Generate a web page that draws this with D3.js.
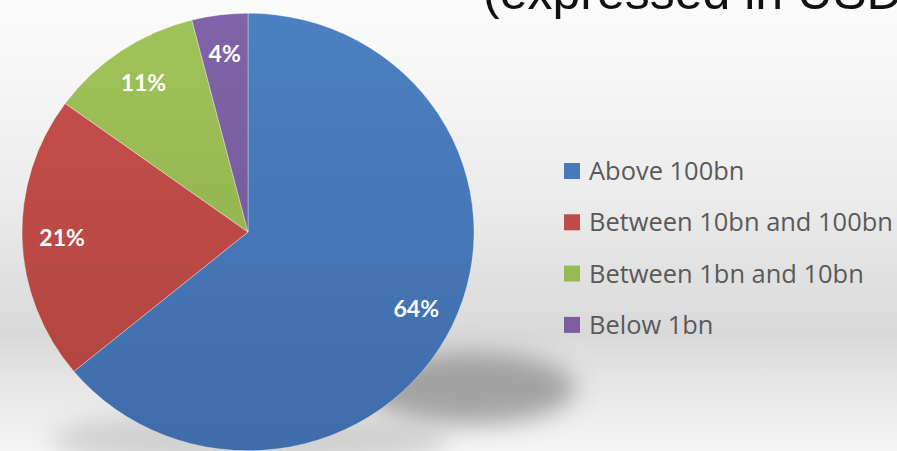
<!DOCTYPE html>
<html>
<head>
<meta charset="utf-8">
<script src="https://cdn.jsdelivr.net/npm/d3@7"></script>
<style>
html,body{margin:0;padding:0;overflow:hidden;background:#f4f4f4;}
svg{display:block;}
</style>
</head>
<body>
<svg id="chart" width="897" height="451"></svg>
<script>
// ---- data ----
const categories = ["Above 100bn", "Between 10bn and 100bn", "Between 1bn and 10bn", "Below 1bn"];
const values = [64, 21, 11, 4];
const labels = ["64%", "21%", "11%", "4%"];
const colors = ["#4879b8", "#be4b48", "#98b954", "#7b5ea0"];
const colorsDark = ["#3f6cab", "#b04340", "#8aab4a", "#6f5393"];
const titleText = "(expressed in USD";

// ---- layout ----
const W = 897, H = 451;
const cx = 248, cy = 232, R = 226, yScale = 0.968;
const labelR = 186;

const svg = d3.select("#chart");
const defs = svg.append("defs");

// background gradient
const bg = defs.append("linearGradient").attr("id", "bg").attr("x1", 0).attr("y1", 0).attr("x2", 0).attr("y2", 1);
[[0, "#fbfbfb"], [0.15, "#f7f7f7"], [0.45, "#ebebeb"], [0.66, "#dedede"], [0.74, "#d9d9d9"], [0.85, "#e6e6e6"], [1, "#f5f5f5"]]
  .forEach(([o, c]) => bg.append("stop").attr("offset", o).attr("stop-color", c));
svg.append("rect").attr("width", W).attr("height", H).attr("fill", "url(#bg)");

// shadow
const blur = defs.append("filter").attr("id", "blur").attr("x", "-50%").attr("y", "-50%").attr("width", "200%").attr("height", "200%");
blur.append("feGaussianBlur").attr("stdDeviation", 12);
svg.append("ellipse").attr("cx", 470).attr("cy", 388).attr("rx", 105).attr("ry", 36)
  .attr("fill", "#8c8c8c").attr("opacity", 0.75).attr("filter", "url(#blur)");
svg.append("ellipse").attr("cx", 250).attr("cy", 440).attr("rx", 200).attr("ry", 30)
  .attr("fill", "#b0b0b0").attr("opacity", 0.5).attr("filter", "url(#blur)");

// slice gradients
colors.forEach((c, i) => {
  const g = defs.append("linearGradient").attr("id", "g" + i)
    .attr("gradientUnits", "userSpaceOnUse").attr("x1", 0).attr("y1", -R).attr("x2", 0).attr("y2", R);
  g.append("stop").attr("offset", 0).attr("stop-color", d3.color(c).brighter(0.15));
  g.append("stop").attr("offset", 1).attr("stop-color", colorsDark[i]);
});

const pie = d3.pie().sort(null).value(d => d);
const arcs = pie(values);
const arc = d3.arc().innerRadius(0).outerRadius(R);
const labelArc = d3.arc().innerRadius(labelR).outerRadius(labelR);

const gPie = svg.append("g").attr("transform", `translate(${cx},${cy}) scale(1,${yScale})`);
gPie.selectAll("path").data(arcs).join("path")
  .attr("d", arc)
  .attr("fill", (d, i) => `url(#g${i})`)
  .attr("stroke", "rgba(255,255,255,0.35)")
  .attr("stroke-width", 1);

// labels
svg.append("g").selectAll("text").data(arcs).join("text")
  .attr("x", d => cx + labelArc.centroid(d)[0])
  .attr("y", d => cy + labelArc.centroid(d)[1] * yScale)
  .attr("dy", "0.36em")
  .attr("text-anchor", "middle")
  .attr("font-family", "Lato, 'Open Sans', sans-serif")
  .attr("font-weight", "bold")
  .attr("font-size", 23)
  .attr("fill", "#ffffff")
  .text((d, i) => labels[i]);

// legend
const legX = 564, legY0 = 171, legStep = 51.3, sq = 16;
const leg = svg.append("g");
const rows = leg.selectAll("g").data(categories).join("g")
  .attr("transform", (d, i) => `translate(${legX},${legY0 + i * legStep})`);
rows.append("rect").attr("x", 0).attr("y", -sq / 2).attr("width", sq).attr("height", sq)
  .attr("fill", (d, i) => colors[i]);
const legText = rows.append("text").attr("x", 25).attr("dy", "0.36em")
  .attr("font-family", "'Open Sans', sans-serif")
  .attr("font-size", 24)
  .attr("fill", "#595959")
  .text(d => d);
// fit longest label to reference width
let maxW = 0;
legText.each(function () { maxW = Math.max(maxW, this.getComputedTextLength()); });
const fs = Math.max(18, Math.min(28, 24 * 304 / maxW));
legText.attr("font-size", fs);

// title (cropped at top in the reference)
svg.append("text").attr("x", 483).attr("y", 9)
  .attr("font-family", "'Liberation Sans', Arial, sans-serif")
  .attr("font-size", 50)
  .attr("fill", "#111111")
  .text(titleText);
</script>
</body>
</html>
